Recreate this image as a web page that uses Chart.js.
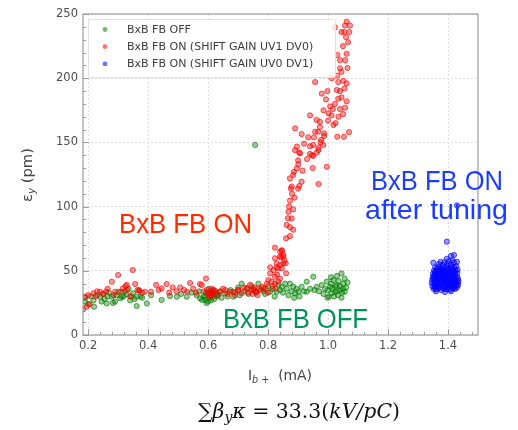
<!DOCTYPE html>
<html lang="en">
<head>
<meta charset="UTF-8">
<title>BxB FB emittance</title>
<script src="https://cdn.jsdelivr.net/npm/chart.js"></script>
<style>
  html, body { margin: 0; padding: 0; background: #fff; }
  #wrap { width: 518px; height: 430px; }
</style>
</head>
<body>
<div id="wrap"><canvas id="emitChart" width="518" height="430"></canvas></div>
<script>
// beam current (mA) vs vertical emittance (pm)
const fbOff = [
  [0.184,20],[0.19,26],[0.19,29],[0.20,24],[0.21,30],[0.218,27],[0.22,22],[0.23,31],[0.24,29.8],[0.245,26],
  [0.25,32],[0.255,28],[0.262,24.6],[0.265,30],[0.27,33],[0.279,29.8],[0.283,25],[0.29,26],[0.295,31],[0.301,33.7],
  [0.307,28.6],[0.312,30],[0.318,29.8],[0.322,34],[0.329,31.7],[0.335,36],[0.34,27],[0.345,30],[0.35,32.5],[0.355,28],
  [0.362,29.8],[0.362,22.6],[0.37,35],[0.375,30],[0.38,29],[0.396,24.6],[0.41,31],[0.445,27.3],[0.473,30.4],[0.496,29.8],
  [0.51,32],[0.529,29.8],[0.545,33],[0.562,31],[0.57,34],[0.573,28.6],[0.58,27.3],[0.585,30],[0.59,27.3],[0.59,29.8],
  [0.593,33],[0.595,25],[0.6,26],[0.6,32.5],[0.603,36],[0.605,29],[0.608,31],[0.61,27],[0.612,34],[0.615,30],
  [0.618,35],[0.62,28],[0.625,32],[0.63,30],[0.634,31.7],[0.64,34],[0.645,29],[0.657,32.5],[0.665,30],[0.675,35],
  [0.684,29.8],[0.69,33],[0.70,37],[0.705,31],[0.712,40],[0.72,34],[0.729,36.3],[0.735,32],[0.745,38],[0.751,36.3],
  [0.757,148],[0.76,33],[0.768,40],[0.775,35],[0.784,36.3],[0.79,32],[0.80,38],[0.807,33.7],[0.815,36],[0.822,30],
  [0.829,33.7],[0.835,39],[0.84,35],[0.846,37.5],[0.85,33],[0.857,40],[0.862,36],[0.868,31],[0.873,40],[0.878,34],
  [0.884,37.5],[0.887,29],[0.89,32.5],[0.895,36],[0.901,33.7],[0.905,30],[0.912,37.5],[0.92,34],[0.929,41.5],[0.929,33.7],
  [0.94,36],[0.951,45.4],[0.955,35],[0.962,37.5],[0.97,34],[0.979,38.9],[0.985,32],[0.99,36],[0.996,41.5],[1.0,35],
  [1.003,30],[1.007,37.5],[1.01,40],[1.012,32.5],[1.015,36],[1.018,42.8],[1.02,30],[1.023,33.7],[1.025,38],[1.029,38.9],
  [1.03,34],[1.033,31],[1.035,42],[1.04,35],[1.04,38],[1.045,48],[1.047,33],[1.05,36],[1.051,40],[1.055,44],
  [1.056,33.7],[1.06,37],[1.065,41],[1.01,45],[1.03,46],[0.998,29],[1.045,29]
];
const fbOnUV1 = [
  [0.19,29.8],[0.195,22],[0.20,31],[0.205,24],[0.218,32.5],[0.225,30],[0.23,34],[0.24,33.7],[0.25,32],[0.26,33.7],
  [0.265,36],[0.279,41.5],[0.285,31],[0.29,33.7],[0.3,46.7],[0.31,33.7],[0.316,36.3],[0.325,38],[0.329,39],[0.33,35],
  [0.34,30],[0.349,50.6],[0.357,39.7],[0.365,35],[0.371,34.3],[0.38,33],[0.39,33.7],[0.41,33.7],[0.427,39],[0.435,35],
  [0.445,36.3],[0.462,39.7],[0.47,33],[0.482,37],[0.495,34],[0.507,37],[0.52,35],[0.53,33.7],[0.54,40.5],[0.55,36],
  [0.56,33],[0.573,39.7],[0.579,38.9],[0.585,34],[0.593,44],[0.596,35],[0.6,33],[0.603,31],[0.607,29.8],[0.61,34],
  [0.612,36],[0.615,32],[0.618,32.5],[0.62,35],[0.625,34],[0.63,31],[0.64,33.7],[0.65,36],[0.657,35],[0.665,32],
  [0.673,33.7],[0.684,33.7],[0.69,31],[0.70,35],[0.701,35],[0.712,32.5],[0.72,37],[0.729,36.3],[0.733,33],[0.74,39],
  [0.745,35],[0.748,32],[0.751,35],[0.755,37],[0.758,34],[0.762,33.7],[0.765,31],[0.77,36],[0.779,37.5],[0.785,34],
  [0.79,36.3],[0.796,40],[0.80,33],[0.801,42.8],[0.807,48],[0.807,52.7],[0.812,41.5],[0.815,38],[0.818,50.6],[0.823,40],
  [0.823,45.4],[0.823,59.7],[0.825,36],[0.829,55.8],[0.829,52.7],[0.834,41.5],[0.834,52],[0.84,44],[0.84,54.5],[0.84,61],
  [0.84,65],[0.843,60.5],[0.846,52],[0.846,66],[0.846,65.6],[0.851,55.8],[0.851,62.3],[0.851,61],[0.823,68],[0.855,58],
  [0.859,55.8],[0.86,75.3],[0.862,85.7],[0.868,96],[0.873,84],[0.873,77],[0.873,104.6],[0.873,122],[0.876,114],[0.879,90.8],
  [0.879,115.6],[0.884,82],[0.884,97.9],[0.884,124.6],[0.886,127],[0.888,107],[0.89,144],[0.89,161],[0.896,129.8],[0.896,146.7],
  [0.9,114],[0.9,136],[0.901,133],[0.904,116],[0.904,142],[0.907,141.5],[0.912,119.4],[0.912,156.5],[0.934,154],[0.94,141],
  [0.94,147],[0.94,171],[0.946,140],[0.949,130],[0.95,148],[0.951,139.5],[0.953,154],[0.957,158.3],[0.957,197],[0.962,142],
  [0.962,167.5],[0.967,158.3],[0.968,117.6],[0.968,144],[0.968,146],[0.973,166],[0.973,162],[0.977,152],[0.979,188],[0.984,148],
  [0.987,155],[0.987,157],[0.993,183.5],[0.996,131],[0.998,190],[1.002,172.6],[1.007,178],[1.012,171],[1.012,200],[1.016,176],
  [1.018,163.6],[1.023,180],[1.023,239.6],[1.029,190.8],[1.031,154.4],[1.031,202],[1.031,218],[1.034,184],[1.034,197],[1.04,176],
  [1.04,190],[1.04,207.7],[1.04,214],[1.045,185],[1.045,236],[1.051,198],[1.053,154.4],[1.054,236],[1.057,177],[1.057,214],
  [1.057,241],[1.06,232],[1.062,182],[1.062,196],[1.062,219],[1.062,244],[1.07,158],[1.071,236],[1.073,241],[1.05,225],
  [1.045,205],[1.065,208],[1.035,170],[1.025,165],[1.055,192],[1.067,228],[1.05,172],[1.00,167],[0.985,175],[0.975,150],
  [0.92,149],[0.93,137],[0.915,128],[0.88,110],[0.866,91],[0.87,100],[0.86,48],[0.83,47]
];
const fbOnUV0 = [
  [1.352,36],[1.36,35.5],[1.368,36.5],[1.377,35],[1.385,36],[1.393,35.5],[1.40,36.2],[1.408,35.2],[1.416,36.4],[1.424,35.8],[1.43,37],
  [1.348,38],[1.356,38.5],[1.364,37.6],[1.372,38.8],[1.381,37.9],[1.389,38.4],[1.397,37.7],[1.404,38.9],[1.412,38.1],[1.42,37.5],[1.428,38.6],[1.434,39],
  [1.346,40.5],[1.354,40],[1.362,40.8],[1.37,39.9],[1.379,40.6],[1.387,40.1],[1.395,40.7],[1.402,39.8],[1.41,40.4],[1.418,40.9],[1.426,40.2],[1.433,41],
  [1.347,42.8],[1.355,42.2],[1.363,43],[1.371,42.4],[1.38,42.9],[1.388,42.1],[1.396,42.7],[1.403,42.3],[1.411,43.1],[1.419,42.5],[1.427,42.9],[1.435,42.2],
  [1.349,45],[1.357,44.6],[1.365,45.4],[1.373,44.8],[1.382,45.3],[1.39,44.5],[1.398,45.2],[1.406,44.7],[1.414,45.5],[1.422,44.9],[1.43,45.3],
  [1.35,47.7],[1.358,47.2],[1.366,48],[1.374,47.4],[1.383,47.9],[1.391,47.1],[1.399,47.8],[1.407,47.3],[1.415,48.1],[1.423,47.6],[1.431,48.2],
  [1.353,50.2],[1.361,49.6],[1.369,50.5],[1.378,49.8],[1.386,50.3],[1.394,49.5],[1.401,50.4],[1.409,49.9],[1.417,50.6],[1.425,50.1],[1.432,50.8],
  [1.357,52.6],[1.367,53],[1.376,52.3],[1.386,52.8],[1.395,53.1],[1.405,52.4],[1.413,53.3],[1.421,52.7],[1.428,53.5],
  [1.37,55.2],[1.383,54.6],[1.398,55.4],[1.41,55],[1.42,56.5],[1.43,57],
  [1.351,56.3],[1.396,59.4],[1.41,61.7],[1.42,62.3],[1.396,72.7],[1.43,101],[1.36,34],[1.39,33.5],[1.41,34],
  [1.375,57],[1.388,56.8],[1.415,58],[1.403,57.5],
  [1.356,37],[1.373,37.2],[1.389,36.8],[1.405,37.4],[1.421,36.9],[1.359,41.5],[1.375,41.2],[1.392,41.6],[1.407,41.4],[1.423,41.7],
  [1.352,44],[1.369,43.8],[1.386,44.2],[1.402,43.9],[1.418,44.1],[1.433,44],[1.354,46.4],[1.37,46.2],[1.387,46.5],[1.403,46.1],
  [1.419,46.6],[1.357,48.9],[1.373,49],[1.389,48.7],[1.405,49.1],[1.421,48.8],[1.363,51.4],[1.381,51.2],[1.398,51.6],[1.414,51.3]
];

const seriesLabels = ['BxB FB OFF', 'BxB FB ON (SHIFT GAIN UV1 DV0)', 'BxB FB ON (SHIFT GAIN UV0 DV1)'];
const seriesColors = ['0,128,0', '255,0,0', '0,0,255'];
const xTicks = [0.2, 0.4, 0.6, 0.8, 1.0, 1.2, 1.4];
const yTicks = [0, 50, 100, 150, 200, 250];

const toXY = arr => arr.map(p => ({ x: p[0], y: p[1] }));

function scatterSet(i, data, order) {
  return {
    label: seriesLabels[i],
    data: toXY(data),
    order: order,
    pointRadius: 2.6,
    pointBorderWidth: 1,
    backgroundColor: 'rgba(' + seriesColors[i] + ',0.4)',
    borderColor: 'rgba(' + seriesColors[i] + ',0.65)'
  };
}

// draw text squeezed to a given width (the slide font was narrower than ours)
function fitText(ctx, txt, x, y, w, font, color) {
  ctx.save();
  ctx.font = font;
  ctx.fillStyle = color;
  ctx.textBaseline = 'alphabetic';
  const m = ctx.measureText(txt).width;
  ctx.translate(x, y);
  ctx.scale(w / m, 1);
  ctx.fillText(txt, 0, 0);
  ctx.restore();
}

function drawRuns(ctx, runs, x, y, targetW) {
  // runs: [text, font, dy]
  let total = 0;
  runs.forEach(r => { ctx.font = r[1]; total += ctx.measureText(r[0]).width; });
  const s = targetW ? targetW / total : 1;
  ctx.save();
  ctx.translate(x, y);
  ctx.scale(s, s);
  let cx = 0;
  runs.forEach(r => {
    ctx.font = r[1];
    ctx.fillText(r[0], cx, r[2] || 0);
    cx += ctx.measureText(r[0]).width;
  });
  ctx.restore();
}

const overlay = {
  id: 'overlay',
  afterDraw(chart) {
    const { ctx, chartArea: a, scales } = chart;
    const sx = scales.x, sy = scales.y;
    ctx.save();

    // frame
    ctx.strokeStyle = '#9c9c9c';
    ctx.lineWidth = 1.2;
    ctx.strokeRect(a.left, a.top, a.right - a.left, a.bottom - a.top);

    // inward ticks
    ctx.lineWidth = 1;
    ctx.strokeStyle = '#9c9c9c';
    ctx.beginPath();
    for (let v = 0; v <= 250; v += 10) {
      const py = Math.round(sy.getPixelForValue(v)) + 0.5;
      const len = v % 50 === 0 ? 6 : 3;
      ctx.moveTo(a.left, py); ctx.lineTo(a.left + len, py);
    }
    for (let k = 0; k <= 32; k++) {
      const v = 0.2 + k * 0.04;
      if (v > sx.max) break;
      const px = Math.round(sx.getPixelForValue(v)) + 0.5;
      const len = k % 5 === 0 ? 6 : 3;
      ctx.moveTo(px, a.bottom); ctx.lineTo(px, a.bottom - len);
    }
    ctx.stroke();

    // legend
    const lx = a.left + 5, ly = a.top + 5, lw = 247, lh = 58;
    ctx.fillStyle = 'rgba(255,255,255,0.8)';
    ctx.strokeStyle = '#e0e0e0';
    ctx.beginPath();
    ctx.roundRect(lx + 0.5, ly + 0.5, lw, lh, 2);
    ctx.fill();
    ctx.stroke();
    ctx.font = '11px "DejaVu Sans"';
    ctx.textBaseline = 'middle';
    seriesLabels.forEach((lab, i) => {
      const ry = ly + 10.5 + i * 17.2;
      ctx.fillStyle = 'rgba(' + seriesColors[i] + ',0.55)';
      ctx.beginPath();
      ctx.arc(lx + 17, ry, 2.4, 0, Math.PI * 2);
      ctx.fill();
      ctx.fillStyle = '#3a3a3a';
      ctx.fillText(lab, lx + 39, ry + 0.5);
    });

    // slide annotations
    const big = '28px "Liberation Sans"';
    fitText(ctx, 'BxB FB ON', 119, 233, 133, big, '#ff2a00');
    fitText(ctx, 'BxB FB OFF', 223, 328, 145, big, '#00925a');
    fitText(ctx, 'BxB FB ON', 371, 190, 132, big, '#1a3cff');
    fitText(ctx, 'after tuning', 365, 219, 143, big, '#1a3cff');

    // axis titles
    ctx.fillStyle = '#444';
    ctx.textBaseline = 'alphabetic';
    drawRuns(ctx, [
      ['I', '13px "DejaVu Sans"', 0],
      ['b', 'italic 9px "DejaVu Sans"', 3],
      [' +', '9px "DejaVu Sans"', 3],
      ['  (mA)', '13px "DejaVu Sans"', 0]
    ], 248, 380, 64);

    ctx.save();
    ctx.translate(32, 202);
    ctx.rotate(-Math.PI / 2);
    drawRuns(ctx, [
      ['\u03b5', '13px "DejaVu Sans"', 0],
      ['y', 'italic 9px "DejaVu Sans"', 3],
      [' (pm)', '13px "DejaVu Sans"', 0]
    ], 0, 0, 54);
    ctx.restore();

    // formula under the plot
    ctx.fillStyle = '#111';
    drawRuns(ctx, [
      ['\u2211', '19px "DejaVu Serif"', 0],
      ['\u03b2', 'italic 19px "DejaVu Serif"', 0],
      ['y', 'italic 13px "DejaVu Serif"', 4],
      ['\u03ba', 'italic 19px "DejaVu Serif"', 0],
      [' = 33.3(', '19px "DejaVu Serif"', 0],
      ['kV/pC', 'italic 19px "DejaVu Serif"', 0],
      [')', '19px "DejaVu Serif"', 0]
    ], 198, 418, 202);

    ctx.restore();
  }
};

const tickFont = { family: 'DejaVu Sans', size: 11.5 };

new Chart(document.getElementById('emitChart'), {
  type: 'scatter',
  data: {
    datasets: [
      scatterSet(0, fbOff, 3),
      scatterSet(1, fbOnUV1, 2),
      scatterSet(2, fbOnUV0, 1)
    ]
  },
  options: {
    responsive: false,
    animation: false,
    layout: { padding: { top: 14, right: 40, left: 0, bottom: 0 } },
    plugins: { legend: { display: false }, tooltip: { enabled: false } },
    scales: {
      x: {
        type: 'linear',
        min: 0.183,
        max: 1.5,
        afterBuildTicks: s => { s.ticks = xTicks.map(v => ({ value: v })); },
        afterFit: s => { s.height = 95; },
        grid: { color: '#dedede', drawTicks: false },
        border: { display: false, dash: [2, 2] },
        ticks: { padding: 4, color: '#4d4d4d', font: tickFont, callback: v => Number(v).toFixed(1) }
      },
      y: {
        min: 0,
        max: 250,
        afterBuildTicks: s => { s.ticks = yTicks.map(v => ({ value: v })); },
        afterFit: s => { s.width = 83; },
        grid: { color: '#dedede', drawTicks: false },
        border: { display: false, dash: [2, 2] },
        ticks: { padding: 5, color: '#4d4d4d', font: tickFont, callback: v => v }
      }
    }
  },
  plugins: [overlay]
});
</script>
</body>
</html>
